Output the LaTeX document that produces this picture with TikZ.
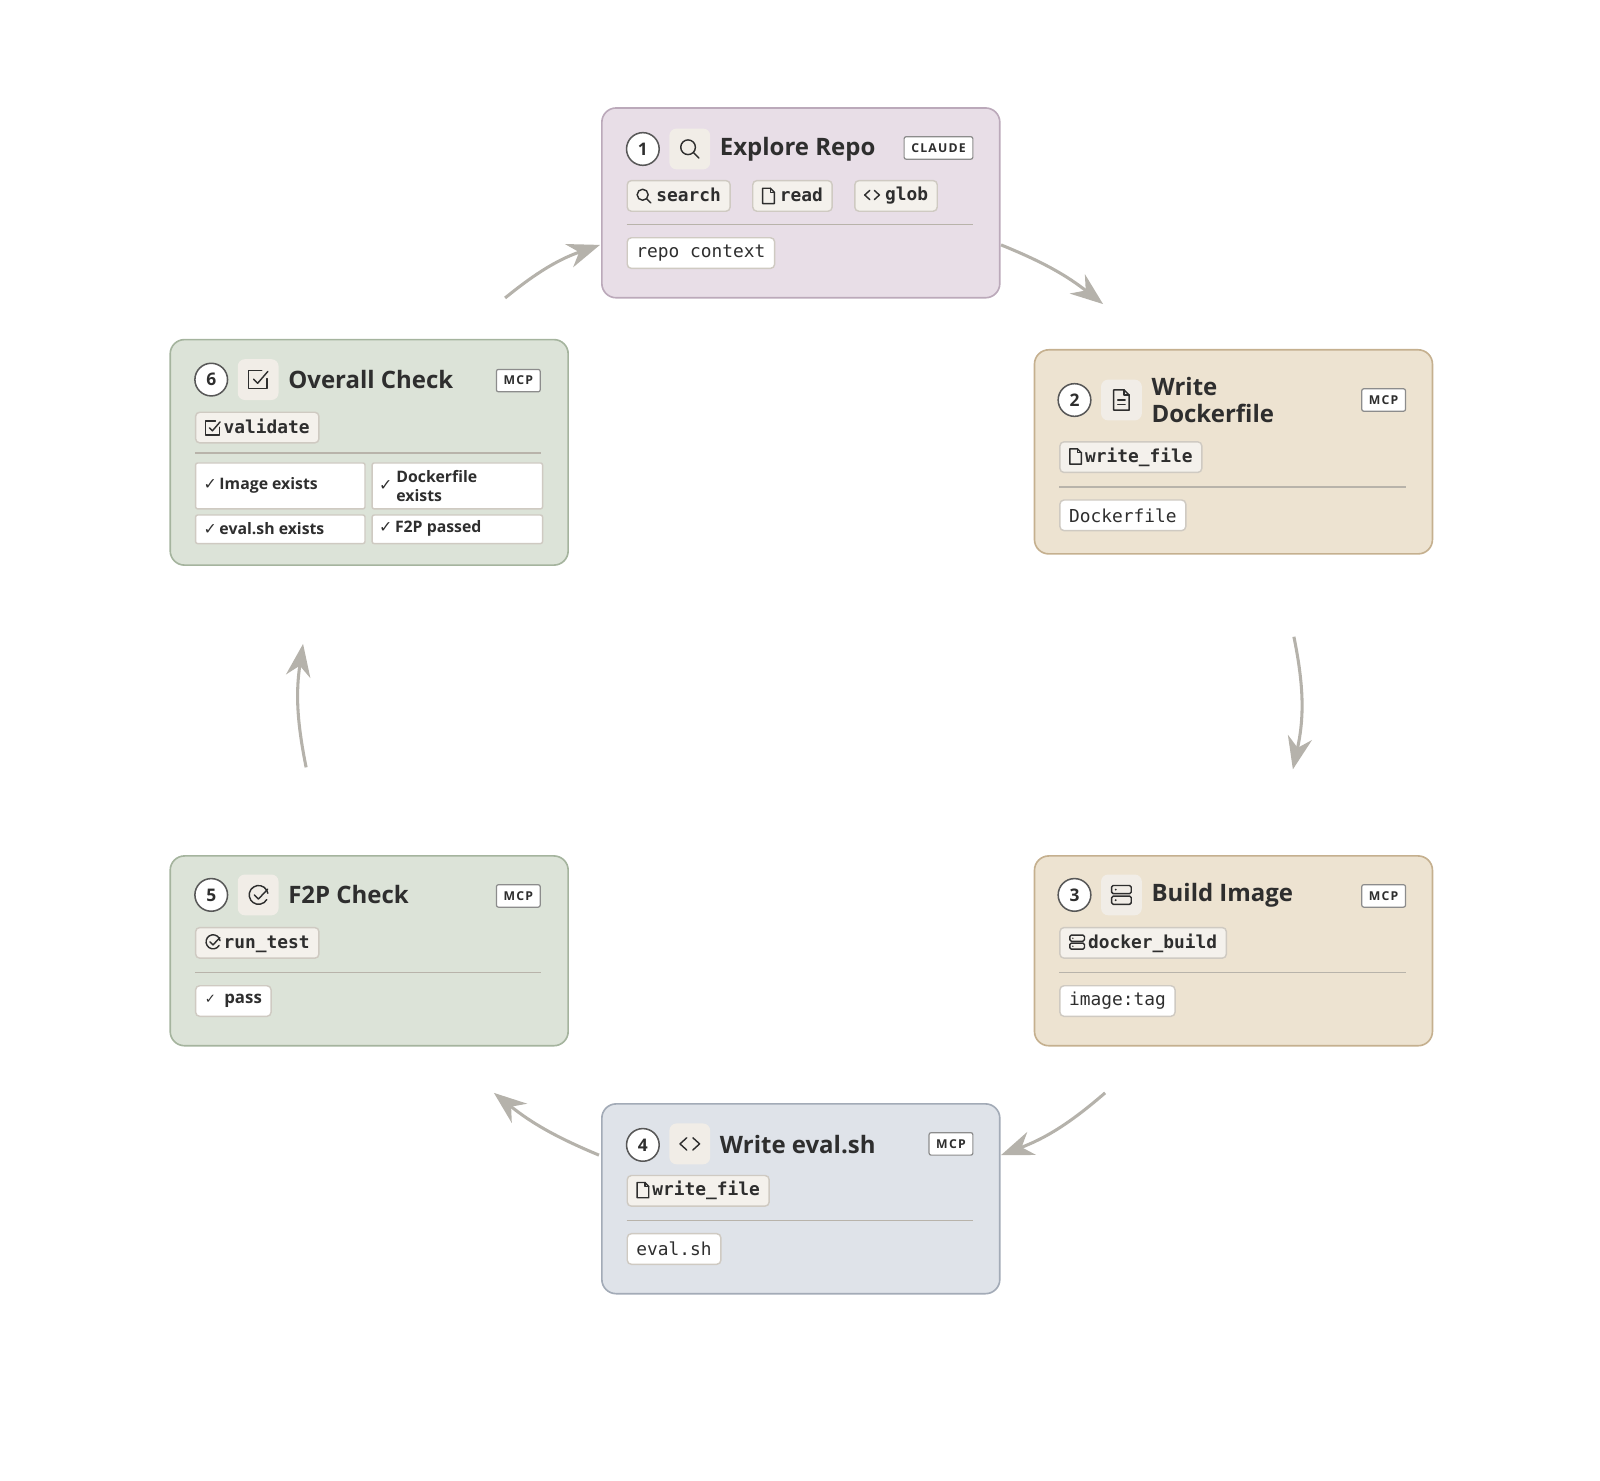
\documentclass[tikz,border=0pt]{standalone}
\usepackage{fontspec}
\setmainfont{Open Sans}
\newfontfamily\monof{DejaVu Sans Mono}
\newfontfamily\badgef[LetterSpace=10]{Open Sans}
\newfontfamily\symf{DejaVu Sans}
\usetikzlibrary{arrows.meta}
\definecolor{ink}{HTML}{2E2E2E}
\definecolor{arr}{HTML}{B5B2AB}
\definecolor{chipf}{HTML}{F4F1EC}
\definecolor{chipb}{HTML}{CFCAC2}
\definecolor{iconbg}{HTML}{F1EDE7}
\definecolor{pf}{HTML}{E8DEE7}\definecolor{pb}{HTML}{BBA9BA}
\definecolor{bf}{HTML}{EDE3D1}\definecolor{bb}{HTML}{C5B08F}
\definecolor{gf}{HTML}{DCE3D8}\definecolor{gb}{HTML}{A5B49E}
\definecolor{sf}{HTML}{DFE3E9}\definecolor{sb}{HTML}{A3ABB7}
\definecolor{sepc}{HTML}{B8B3AA}
\tikzset{ic/.style={sharp corners,line width=1.4pt,draw=ink,line join=round,line cap=round}}
\newcommand\icS[1]{\tikz[baseline=-0.6ex,x=#1,y=#1]{\draw[ic] (-0.08,0.08) circle (0.36); \draw[ic] (0.18,-0.18)--(0.45,-0.45);}}
\newcommand\icF[1]{\tikz[baseline=-0.6ex,x=#1,y=#1]{\draw[ic] (-0.38,-0.5)--(-0.38,0.5)--(0.12,0.5)--(0.38,0.24)--(0.38,-0.5)--cycle; \draw[ic] (0.12,0.5)--(0.12,0.24)--(0.38,0.24);}}
\newcommand\icFL[1]{\tikz[baseline=-0.6ex,x=#1,y=#1]{\draw[ic] (-0.38,-0.5)--(-0.38,0.5)--(0.12,0.5)--(0.38,0.24)--(0.38,-0.5)--cycle; \draw[ic] (0.12,0.5)--(0.12,0.24)--(0.38,0.24); \draw[ic] (-0.18,0)--(0.18,0); \draw[ic] (-0.18,-0.22)--(0.18,-0.22);}}
\newcommand\icC[1]{\tikz[baseline=-0.6ex,x=#1,y=#1]{\draw[ic] (-0.15,0.3)--(-0.48,0)--(-0.15,-0.3); \draw[ic] (0.15,0.3)--(0.48,0)--(0.15,-0.3);}}
\newcommand\icQ[1]{\tikz[baseline=-0.6ex,x=#1,y=#1]{\draw[ic] (0.45,0.05)--(0.45,-0.45)--(-0.45,-0.45)--(-0.45,0.45)--(0.2,0.45); \draw[ic] (-0.2,0.02)--(0,-0.18)--(0.5,0.4);}}
\newcommand\icO[1]{\tikz[baseline=-0.6ex,x=#1,y=#1]{\draw[ic] (0.46,0.1) arc (10:330:0.46); \draw[ic] (-0.2,0.02)--(0,-0.18)--(0.45,0.3);}}
\newcommand\icD[1]{\tikz[baseline=-0.6ex,x=#1,y=#1]{\draw[ic,rounded corners=1.5pt] (-0.48,0.06) rectangle (0.48,0.46); \draw[ic,rounded corners=1.5pt] (-0.48,-0.06) rectangle (0.48,-0.46); \fill[ink] (-0.28,0.26) circle (0.05); \fill[ink] (-0.28,-0.26) circle (0.05);}}
\tikzset{
 panel/.style={rounded corners=14, line width=1.6},
 num/.style={circle, draw=ink!80, line width=1.5, fill=white, minimum size=32, inner sep=0, text=ink, font=\bfseries\fontsize{17}{17}\selectfont},
 iconbox/.style={fill=iconbg, rounded corners=7, minimum size=40, inner sep=0},
 title/.style={anchor=west, text=ink, align=left, font=\bfseries\fontsize{23.5}{27}\selectfont},
 badge/.style={anchor=east, draw=ink!55, fill=white, line width=1.2, rounded corners=2, text=ink, font=\badgef\bfseries\fontsize{12}{13}\selectfont, inner xsep=7, inner ysep=0, minimum height=22},
 tool/.style={anchor=west, draw=chipb, fill=chipf, line width=1.4, rounded corners=4, minimum height=30, inner xsep=9, inner ysep=0, text=ink, font=\monof\bfseries\fontsize{17.5}{17}\selectfont},
 outchip/.style={tool, fill=white, font=\monof\fontsize{17.5}{17}\selectfont},
 cell/.style={anchor=north west, draw=chipb, fill=white, line width=1.4, rounded corners=2, inner sep=0},
 celltxt/.style={anchor=west, text=ink, align=left, font=\fontsize{15.5}{19}\selectfont\bfseries},
 sep/.style={draw=sepc, line width=1.5},
 flow/.style={draw=arr, line width=3, -{Stealth[length=32,width=24]}},
}
\begin{document}
\begin{tikzpicture}[x=1pt,y=-1pt]
\useasboundingbox (0,0) rectangle (1568,1451);
% ---------- box 1
\node[panel, draw=pb, fill=pf, minimum width=390, minimum height=186, anchor=north west] (b1) at (589,105) {};
\node[num] (n1) at (630,146) {1};
\node[iconbox] (i1) at (676,146) {\icS{20pt}};
\node[title] (t1) at (702,146) {Explore Repo};
\node[badge] (g1) at (954,145) {CLAUDE};
\node[tool] (s1) at (614,192) {\icS{15pt}\;search};
\node[tool] (r1) at (737,192) {\icF{15pt}\;read};
\node[tool] (gl1) at (837,192) {\icC{15pt}\;glob};
\draw[sep] (614,220) -- (954,220);
\node[outchip] (o1) at (614,248) {repo context};
% ---------- box 2
\node[panel, draw=bb, fill=bf, minimum width=390, minimum height=200, anchor=north west] (b2) at (1013,342) {};
\node[num] (n2) at (1053,392) {2};
\node[iconbox] (i2) at (1099,392) {\icFL{20pt}};
\node[title] (t2) at (1125,392) {Write\\Dockerfile};
\node[badge] (g2) at (1378,392) {MCP};
\node[tool] (w2) at (1038,448) {\icF{15pt}\,write\_file};
\draw[sep] (1038,477) -- (1378,477);
\node[outchip] (o2) at (1038,505) {Dockerfile};
% ---------- box 3
\node[panel, draw=bb, fill=bf, minimum width=390, minimum height=186, anchor=north west] (b3) at (1013,838) {};
\node[num] (n3) at (1053,877) {3};
\node[iconbox] (i3) at (1099,877) {\icD{20pt}};
\node[title] (t3) at (1125,877) {Build Image};
\node[badge] (g3) at (1378,878) {MCP};
\node[tool] (d3) at (1038,924) {\icD{15pt}\,docker\_build};
\draw[sep] (1038,953) -- (1378,953);
\node[outchip] (o3) at (1038,981) {image:tag};
% ---------- box 4
\node[panel, draw=sb, fill=sf, minimum width=390, minimum height=186, anchor=north west] (b4) at (589,1081) {};
\node[num] (n4) at (630,1122) {4};
\node[iconbox] (i4) at (676,1121) {\icC{20pt}};
\node[title] (t4) at (702,1122) {Write eval.sh};
\node[badge] (g4) at (954,1121) {MCP};
\node[tool] (w4) at (614,1167) {\icF{15pt}\,write\_file};
\draw[sep] (614,1196) -- (954,1196);
\node[outchip] (o4) at (614,1224) {eval.sh};
% ---------- box 5
\node[panel, draw=gb, fill=gf, minimum width=390, minimum height=186, anchor=north west] (b5) at (166,838) {};
\node[num] (n5) at (207,877) {5};
\node[iconbox] (i5) at (253,877) {\icO{20pt}};
\node[title] (t5) at (279,877) {F2P Check};
\node[badge] (g5) at (530,878) {MCP};
\node[tool] (rt5) at (191,924) {\icO{15pt}\,run\_test};
\draw[sep] (191,953) -- (530,953);
\node[tool, fill=white, font=\bfseries\fontsize{16.5}{17}\selectfont] (o5) at (191,981) {{\symf\fontsize{13}{13}\selectfont ✓}\enspace pass};
% ---------- box 6
\node[panel, draw=gb, fill=gf, minimum width=390, minimum height=221, anchor=north west] (b6) at (166,332) {};
\node[num] (n6) at (207,372) {6};
\node[iconbox] (i6) at (253,372) {\icQ{20pt}};
\node[title] (t6) at (279,372) {Overall Check};
\node[badge] (g6) at (530,373) {MCP};
\node[tool] (v6) at (191,419) {\icQ{15pt}\,validate};
\draw[sep] (191,444) -- (530,444);
\node[cell, minimum width=166, minimum height=45] (c61) at (191,453) {};
\node[celltxt] (l61) at (196,476) {{\symf ✓}\,Image exists};
\node[cell, minimum width=167, minimum height=45] (c62) at (364,453) {};
\node[celltxt] (k62) at (368,476) {{\symf ✓}};
\node[celltxt] (l62) at (385,476) {Dockerfile\\exists};
\node[cell, minimum width=166, minimum height=28] (c63) at (191,504) {};
\node[celltxt] (l63) at (196,518) {{\symf ✓}\,eval.sh exists};
\node[cell, minimum width=167, minimum height=28] (c64) at (364,504) {};
\node[celltxt] (l64) at (368,518) {{\symf ✓}\,F2P passed};
% ---------- arrows
\coordinate (a1s) at (495,292); \coordinate (a1e) at (588,240);
\coordinate (a2s) at (981,240); \coordinate (a2e) at (1081,298);
\coordinate (a3s) at (1268,624); \coordinate (a3e) at (1267,754);
\coordinate (a4s) at (1083,1071); \coordinate (a4e) at (981,1132);
\coordinate (a5s) at (587,1132); \coordinate (a5e) at (484,1071);
\coordinate (a6s) at (300,752); \coordinate (a6e) at (297,631);
\draw[flow] (a1s) to[bend left=10] (a1e);
\draw[flow] (a2s) to[bend left=8] (a2e);
\draw[flow] (a3s) to[bend left=12] (a3e);
\draw[flow] (a4s) to[bend left=10] (a4e);
\draw[flow] (a5s) to[bend left=8] (a5e);
\draw[flow] (a6s) to[bend left=10] (a6e);
\end{tikzpicture}
\end{document}
